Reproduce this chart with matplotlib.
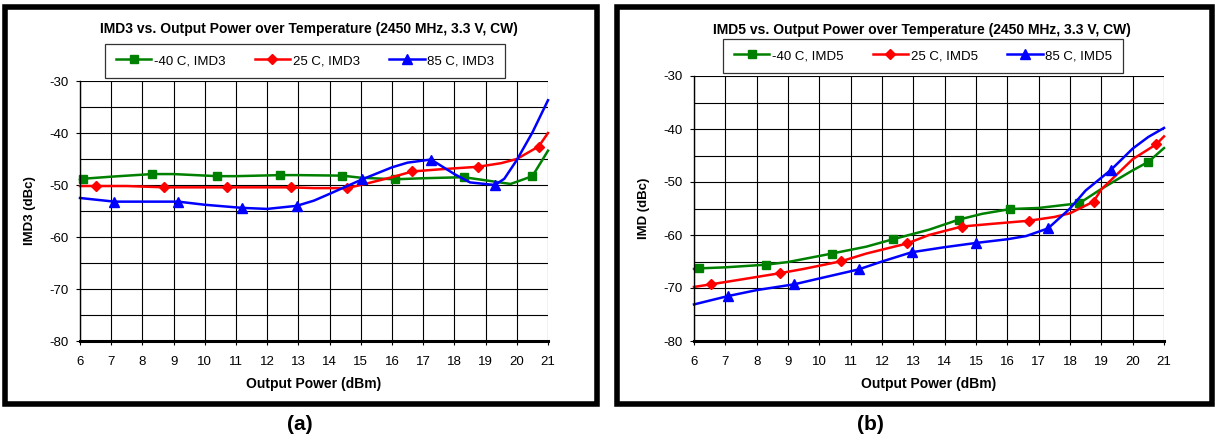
import numpy as np
import matplotlib
matplotlib.use('Agg')
import matplotlib.pyplot as plt
from matplotlib.patches import Rectangle

plt.rcParams['font.family'] = ['Liberation Sans', 'DejaVu Sans']
plt.rcParams['axes.unicode_minus'] = False

# ---- data (x = output power dBm, y = dBc) ----
# IMD3, -40 C
imd3_m40_x = [6.0, 6.1, 7.0, 8.3, 9.0, 10.4, 11.0, 12.4, 13.0, 14.4, 15.0, 16.1, 17.0, 18.3, 19.0, 19.8, 20.5, 21.0]
imd3_m40_y = [-49.0, -48.8, -48.4, -47.9, -47.9, -48.3, -48.3, -48.1, -48.1, -48.2, -48.6, -48.9, -48.7, -48.5, -49.1, -49.8, -48.3, -43.4]
imd3_m40_mk = [1, 3, 5, 7, 9, 11, 13, 16]
# IMD3, 25 C
imd3_25_x = [6.0, 6.5, 7.5, 8.7, 9.5, 10.7, 11.7, 12.75, 13.5, 14.55, 15.0, 16.0, 16.65, 17.5, 18.75, 19.5, 20.0, 20.7, 21.0]
imd3_25_y = [-50.2, -50.2, -50.2, -50.45, -50.45, -50.45, -50.45, -50.45, -50.6, -50.6, -50.0, -48.5, -47.4, -47.0, -46.5, -45.8, -45.0, -42.6, -40.0]
imd3_25_mk = [1, 3, 5, 7, 9, 12, 14, 17]
# IMD3, 85 C
imd3_85_x = [6.0, 7.1, 8.0, 9.15, 10.0, 11.2, 12.0, 12.95, 13.5, 14.0, 15.05, 16.0, 16.5, 17.25, 18.0, 18.5, 19.3, 19.6, 20.0, 20.5, 21.0]
imd3_85_y = [-52.5, -53.2, -53.2, -53.2, -53.8, -54.4, -54.6, -54.0, -53.0, -51.7, -48.9, -46.6, -45.7, -45.1, -47.9, -49.5, -50.0, -48.8, -45.2, -39.9, -33.7]
imd3_85_mk = [1, 3, 5, 7, 10, 13, 16]

# IMD5, -40 C
imd5_m40_x = [6.0, 6.15, 7.0, 8.3, 9.0, 10.4, 11.5, 12.35, 13.5, 14.45, 15.2, 16.1, 17.0, 18.3, 19.0, 20.0, 20.5, 21.0]
imd5_m40_y = [-66.4, -66.3, -66.1, -65.6, -65.1, -63.5, -62.2, -60.8, -59.0, -57.1, -56.0, -55.1, -54.9, -54.0, -51.3, -47.8, -46.2, -43.6]
imd5_m40_mk = [1, 3, 5, 7, 9, 11, 13, 16]
# IMD5, 25 C
imd5_25_x = [6.0, 6.55, 7.5, 8.75, 9.5, 10.7, 11.5, 12.8, 13.5, 14.55, 15.5, 16.7, 17.5, 18.0, 18.75, 19.0, 20.0, 20.75, 21.0]
imd5_25_y = [-69.8, -69.3, -68.4, -67.2, -66.4, -64.95, -63.5, -61.6, -60.0, -58.4, -57.9, -57.3, -56.6, -55.9, -53.7, -51.4, -45.7, -42.9, -41.4]
imd5_25_mk = [1, 3, 5, 7, 9, 11, 14, 17]
# IMD5, 85 C
imd5_85_x = [6.0, 7.1, 8.0, 9.2, 10.0, 11.25, 12.0, 12.95, 14.0, 15.0, 16.0, 16.6, 17.3, 18.0, 18.5, 19.3, 20.0, 20.5, 21.0]
imd5_85_y = [-73.1, -71.5, -70.4, -69.3, -68.2, -66.5, -65.0, -63.25, -62.3, -61.5, -60.8, -60.2, -58.75, -55.0, -51.6, -47.75, -43.7, -41.5, -39.8]
imd5_85_mk = [1, 3, 5, 7, 9, 12, 15]

x_ticks = list(range(6, 22))
y_ticks = [-80, -70, -60, -50, -40, -30]

W, H = 1215, 443
fig = plt.figure(figsize=(W / 100, H / 100), dpi=100)


def px_axes(x0, y0, x1, y1):
    # pixel box (top-left origin) -> figure fraction axes
    return fig.add_axes([x0 / W, 1 - y1 / H, (x1 - x0) / W, (y1 - y0) / H])


def setup(ax, ylabel, labels, series):
    ax.set_xlim(6, 21)
    ax.set_ylim(-80, -30)
    ax.set_xticks(x_ticks)
    ax.set_yticks(y_ticks)
    ax.set_yticks(np.arange(-75, -30, 10), minor=True)
    ax.grid(True, which='both', color='black', lw=0.8)
    ax.set_axisbelow(True)
    for s in ['top', 'right']:
        ax.spines[s].set_visible(False)
    ax.spines['left'].set_linewidth(1.0)
    ax.spines['bottom'].set_linewidth(2.2)
    ax.tick_params(which='major', direction='out', length=3, width=0.8, labelsize=9.5, pad=5)
    ax.tick_params(axis='x', which='major', pad=8)
    ax.tick_params(which='minor', length=0)
    ax.set_ylabel(ylabel, fontsize=9.5, fontweight='bold', labelpad=10)
    ax.set_xlabel('Output Power (dBm)', fontsize=10, fontweight='bold', labelpad=6)

    handles = []
    cols = ['#008000', '#ff0000', '#0000ff']
    mks = ['s', 'D', '^']
    msz = [6, 5, 7]
    for (xs, ys, mk), c, m, ms, lab in zip(series, cols, mks, msz, labels):
        h, = ax.plot(xs, ys, color=c, lw=1.8, marker=m, markersize=ms,
                     markevery=mk, label=lab, clip_on=False)
        handles.append(h)
    return handles


# ---- panel (a) ----
ax1 = px_axes(80, 81, 548, 341)
h1 = setup(ax1, 'IMD3 (dBc)',
           ['-40 C, IMD3', '25 C, IMD3', '85 C, IMD3'],
           [(imd3_m40_x, imd3_m40_y, imd3_m40_mk),
            (imd3_25_x, imd3_25_y, imd3_25_mk),
            (imd3_85_x, imd3_85_y, imd3_85_mk)])

# ---- panel (b) ----
ax2 = px_axes(694, 76, 1164, 341)
h2 = setup(ax2, 'IMD (dBc)',
           ['-40 C, IMD5', '25 C, IMD5', '85 C, IMD5'],
           [(imd5_m40_x, imd5_m40_y, imd5_m40_mk),
            (imd5_25_x, imd5_25_y, imd5_25_mk),
            (imd5_85_x, imd5_85_y, imd5_85_mk)])

# titles
fig.text(309 / W, 1 - 29 / H, 'IMD3 vs. Output Power over Temperature (2450 MHz, 3.3 V, CW)',
         ha='center', va='center', fontsize=10, fontweight='bold')
fig.text(922 / W, 1 - 30 / H, 'IMD5 vs. Output Power over Temperature (2450 MHz, 3.3 V, CW)',
         ha='center', va='center', fontsize=10, fontweight='bold')

# legends
for h, cx, cy in [(h1, 305, 61), (h2, 923, 56)]:
    leg = fig.legend(handles=h, loc='center', bbox_to_anchor=(cx / W, 1 - cy / H),
                     ncol=3, fontsize=9.5, frameon=True, fancybox=False,
                     edgecolor='black', handlelength=2.7, columnspacing=2.2,
                     handletextpad=0.2, borderpad=0.8, borderaxespad=0)
    leg.get_frame().set_linewidth(0.9)

# panel frames
for x0, x1 in [(5, 597), (617, 1212)]:
    fig.patches.append(Rectangle((x0 / W, 1 - 404 / H), (x1 - x0) / W, (404 - 7) / H,
                                 transform=fig.transFigure, fill=False,
                                 edgecolor='black', lw=4))

fig.text(300 / W, 1 - 425 / H, '(a)', ha='center', va='center', fontsize=15, fontweight='bold')
fig.text(870 / W, 1 - 425 / H, '(b)', ha='center', va='center', fontsize=15, fontweight='bold')

fig.savefig('out.png', dpi=100)
